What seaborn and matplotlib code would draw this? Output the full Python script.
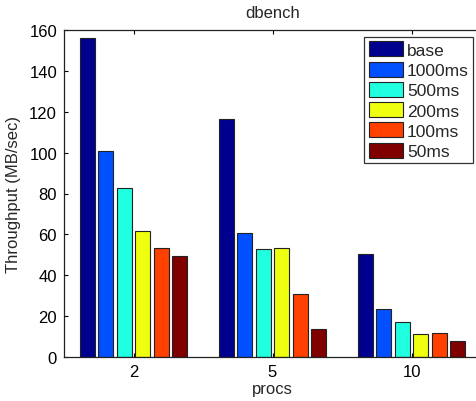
import numpy as np
import pandas as pd
import matplotlib
matplotlib.use("Agg")
import matplotlib.pyplot as plt
import seaborn as sns

procs = ["2", "5", "10"]
series = ["base", "1000ms", "500ms", "200ms", "100ms", "50ms"]
base = [156, 116.4, 50.4]
ms1000 = [101, 60.5, 23.5]
ms500 = [82.7, 52.8, 17.1]
ms200 = [61.6, 53.3, 11.2]
ms100 = [53.3, 30.8, 11.7]
ms50 = [49.4, 13.7, 7.8]
colors = ["#00008F", "#0050FF", "#20FFDF", "#EFFF10", "#FF4000", "#800000"]

values = [base, ms1000, ms500, ms200, ms100, ms50]
df = pd.DataFrame([
    {"procs": p, "series": s, "tput": v}
    for s, vals in zip(series, values)
    for p, v in zip(procs, vals)
])

sns.set_style("white")
plt.rcParams["font.family"] = ["Liberation Sans", "DejaVu Sans"]

fig = plt.figure(figsize=(4.77, 4.02), dpi=100)
ax = fig.add_axes([64 / 477, 44 / 402, 417 / 477, 327 / 402])

sns.barplot(data=df, x="procs", y="tput", hue="series", order=procs,
            hue_order=series, palette=colors, width=0.8, gap=0.2,
            edgecolor="#222222", linewidth=0.8, saturation=1, ax=ax)

ax.set_xlim(-0.5, 2.5)
ax.set_ylim(0, 160)
ax.set_yticks(np.arange(0, 161, 20))
ax.set_title("dbench", fontsize=12, pad=9)
ax.set_xlabel("procs", fontsize=12, labelpad=1.5)
ax.set_ylabel("Throughput (MB/sec)", fontsize=12, labelpad=6)
ax.tick_params(direction="in", length=3, width=0.8, labelsize=12, pad=5,
               top=True, right=True, left=True, bottom=True, colors="black")
for sp in ax.spines.values():
    sp.set_color("#222222")
    sp.set_linewidth(0.9)

leg = ax.legend(loc="upper right", fontsize=12.5, frameon=True, fancybox=False,
                edgecolor="black", handlelength=2.0, handleheight=0.95,
                handletextpad=0.2, labelspacing=0.22, borderpad=0.25,
                borderaxespad=0.4, bbox_to_anchor=(0.9975, 1.0))
leg.get_frame().set_linewidth(0.9)

fig.savefig("out.png", dpi=100)
